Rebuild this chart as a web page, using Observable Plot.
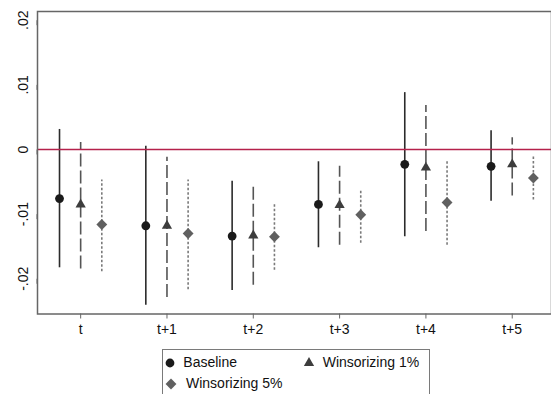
<!DOCTYPE html>
<html>
<head>
<meta charset="utf-8">
<script src="https://cdn.jsdelivr.net/npm/d3@7"></script>
<script src="https://cdn.jsdelivr.net/npm/@observablehq/plot@0.6"></script>
<style>
  html, body { margin: 0; padding: 0; background: #fff; }
  #wrap { position: relative; width: 551px; height: 394px; overflow: hidden; font-family: "Liberation Sans", Arial, sans-serif; }
  #legend { position: absolute; left: 162px; top: 349px; width: 268px; height: 60px; border: 1px solid #7a7a7a; box-sizing: border-box; background: #fff; }
  .entry { position: absolute; font-size: 14px; line-height: 16px; color: #111; white-space: nowrap; }
  .icon { position: absolute; }
</style>
</head>
<body>
<div id="wrap"></div>
<script>
// Horizon labels
const periods = ["t", "t+1", "t+2", "t+3", "t+4", "t+5"];

// Point estimates and 95% confidence bounds, per specification
const baselineEst = [-0.0076, -0.0118, -0.0134, -0.0085, -0.0023, -0.0026];
const baselineLo  = [-0.0183, -0.0241, -0.0218, -0.0152, -0.0135, -0.0080];
const baselineHi  = [ 0.0031,  0.0005, -0.0049, -0.0019,  0.0088,  0.0029];

const w1Est = [-0.0085, -0.0118, -0.0133, -0.0086, -0.0028, -0.0023];
const w1Lo  = [-0.0185, -0.0229, -0.0210, -0.0148, -0.0127, -0.0072];
const w1Hi  = [ 0.0011, -0.0012, -0.0057, -0.0026,  0.0068,  0.0018];

const w5Est = [-0.0116, -0.0130, -0.0135, -0.0101, -0.0082, -0.0044];
const w5Lo  = [-0.0189, -0.0217, -0.0187, -0.0145, -0.0148, -0.0078];
const w5Hi  = [-0.0047, -0.0047, -0.0085, -0.0062, -0.0018, -0.0009];

// Y tick values
const yTicks = [-0.02, -0.01, 0, 0.01, 0.02];

// Series styling
const seriesDefs = [
  {name: "Baseline",        est: baselineEst, lo: baselineLo, hi: baselineHi, offset: -0.245, line: "#2b2b2b", dash: null,    symbol: "circle",   fill: "#1a1a1a", r: 4.4},
  {name: "Winsorizing 1%",  est: w1Est,       lo: w1Lo,       hi: w1Hi,       offset: 0,      line: "#555555", dash: "13,4",  symbol: "triangle", fill: "#3d3d3d", r: 3.8},
  {name: "Winsorizing 5%",  est: w5Est,       lo: w5Lo,       hi: w5Hi,       offset: 0.245,  line: "#7a7a7a", dash: "2.5,2", symbol: "diamond2", fill: "#606060", r: 4.9}
];

function rowsFor(s) {
  return periods.map((p, i) => ({x: i + s.offset, est: s.est[i], lo: s.lo[i], hi: s.hi[i]}));
}

const fmt = d => d === 0 ? "0" : (d < 0 ? "-" : "") + String(Math.abs(d)).replace(/^0/, "");

const marks = [];
for (const s of seriesDefs) {
  marks.push(Plot.ruleX(rowsFor(s), {x: "x", y1: "lo", y2: "hi", stroke: s.line, strokeWidth: 1.6, strokeDasharray: s.dash}));
}
marks.push(Plot.ruleY([0], {stroke: "#b5214b", strokeWidth: 1.3}));
for (const s of seriesDefs) {
  marks.push(Plot.dot(rowsFor(s), {x: "x", y: "est", symbol: () => s.symbol, fill: s.fill, stroke: "none", r: s.r}));
}
marks.push(Plot.frame({stroke: "#666", strokeWidth: 1.5}));
marks.push(Plot.axisY({ticks: yTicks, tickFormat: fmt, tickSize: 5, tickPadding: 5, rotate: -90, textAnchor: "middle", lineAnchor: "bottom", fontSize: 14, stroke: "#666", label: null}));
marks.push(Plot.axisX({ticks: d3.range(periods.length), tickFormat: i => periods[i], tickSize: 5, tickPadding: 5, fontSize: 14, stroke: "#666", label: null}));

const chart = Plot.plot({
  width: 551,
  height: 345,
  marginLeft: 37,
  marginRight: 0,
  marginTop: 11,
  marginBottom: 31.5,
  style: {fontFamily: "'Liberation Sans', Arial, sans-serif", color: "#111", background: "#fff"},
  x: {type: "linear", domain: [-0.5, 5.455], label: null},
  y: {domain: [-0.02545, 0.02135], label: null},
  symbol: {type: "identity"},
  marks
});

const wrap = document.getElementById("wrap");
wrap.appendChild(chart);

// Legend box below the plot
const legend = document.createElement("div");
legend.id = "legend";
wrap.appendChild(legend);

const legendPos = [
  {cx: 7.3,   cy: 12.7, tx: 20.3},
  {cx: 146.3, cy: 12.7, tx: 159.7},
  {cx: 8,     cy: 33.7, tx: 23}
];
const symbolTypes = {circle: d3.symbolCircle, triangle: d3.symbolTriangle, diamond2: d3.symbolDiamond2};
seriesDefs.forEach((s, k) => {
  const p = legendPos[k];
  const icon = d3.create("svg").attr("class", "icon").attr("width", 14).attr("height", 14)
    .style("left", (p.cx - 7) + "px").style("top", (p.cy - 7) + "px");
  icon.append("path")
    .attr("transform", "translate(7,7)")
    .attr("d", d3.symbol(symbolTypes[s.symbol], Math.PI * s.r * s.r)())
    .attr("fill", s.fill);
  legend.appendChild(icon.node());
  const t = document.createElement("div");
  t.className = "entry";
  t.textContent = s.name;
  t.style.left = p.tx + "px";
  t.style.top = (p.cy - 8.5) + "px";
  legend.appendChild(t);
});
</script>
</body>
</html>
